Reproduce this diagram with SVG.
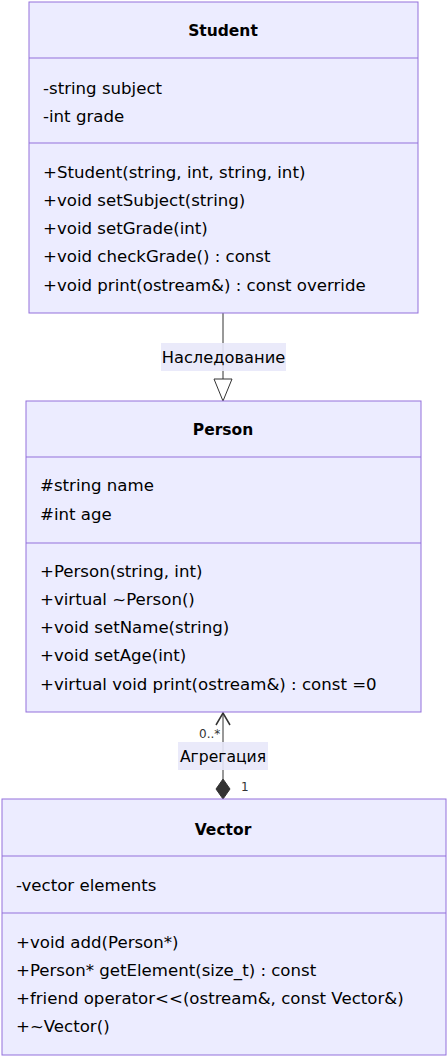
<svg xmlns="http://www.w3.org/2000/svg" width="448" height="1057" viewBox="0 0 448 1057">
<style>
.box{fill:#ECECFF;stroke:#9370DB;stroke-width:1}
.div{stroke:#9370DB;stroke-width:1}
text{font-family:"DejaVu Sans",Verdana,sans-serif;font-size:16.6px;fill:#000}
.t{font-weight:bold;text-anchor:middle;font-size:15.5px}
.lbl{fill:#E8E8FA;opacity:0.9}
.edge{stroke:#333;stroke-width:1;fill:none}
.card{font-size:12px;fill:#333}
</style>
<g id="connectors">
<line class="edge" x1="223" y1="313" x2="223" y2="380"/>
<path d="M223,401 L214,379 L232,379 Z" fill="#fff" stroke="#333" stroke-width="1"/>
<rect class="lbl" x="161" y="343" width="125" height="28"/>
<text x="223.5" y="363" text-anchor="middle" style="font-size:16.3px">Наследование</text>
<line class="edge" x1="223" y1="713" x2="223" y2="779"/>
<path d="M216,725 L223,713 L230,725" fill="none" stroke="#333" stroke-width="1.5"/>
<path d="M223,799 L216,789 L223,779 L230,789 Z" fill="#333" stroke="#333"/>
<rect class="lbl" x="178" y="742" width="90" height="28"/>
<text x="223" y="762" text-anchor="middle" style="font-size:15.6px">Агрегация</text>
<text class="card" x="199" y="738">0..*</text>
<text class="card" x="241" y="791">1</text>
</g>
<g id="Student">
<rect class="box" x="29" y="2" width="389" height="311"/>
<line class="div" x1="29" y1="58" x2="418" y2="58"/>
<line class="div" x1="29" y1="143" x2="418" y2="143"/>
<text class="t" x="223" y="36">Student</text>
<text x="43" y="94">-string subject</text>
<text x="43" y="122">-int grade</text>
<text x="43" y="178">+Student(string, int, string, int)</text>
<text x="43" y="206">+void setSubject(string)</text>
<text x="43" y="234">+void setGrade(int)</text>
<text x="43" y="262">+void checkGrade() : const</text>
<text x="43" y="291">+void print(ostream&amp;) : const override</text>
</g>
<g id="Person">
<rect class="box" x="26" y="401" width="395" height="311"/>
<line class="div" x1="26" y1="457" x2="421" y2="457"/>
<line class="div" x1="26" y1="543" x2="421" y2="543"/>
<text class="t" x="223" y="435">Person</text>
<text x="40" y="491">#string name</text>
<text x="40" y="520">#int age</text>
<text x="40" y="577">+Person(string, int)</text>
<text x="40" y="605">+virtual ~Person()</text>
<text x="40" y="633">+void setName(string)</text>
<text x="40" y="661">+void setAge(int)</text>
<text x="40" y="690">+virtual void print(ostream&amp;) : const =0</text>
</g>
<g id="Vector">
<rect class="box" x="2" y="799" width="444" height="256"/>
<line class="div" x1="2" y1="856" x2="446" y2="856"/>
<line class="div" x1="2" y1="913" x2="446" y2="913"/>
<text class="t" x="223" y="835">Vector</text>
<text x="16" y="891">-vector elements</text>
<text x="16" y="948">+void add(Person*)</text>
<text x="16" y="976">+Person* getElement(size_t) : const</text>
<text x="16" y="1004">+friend operator&lt;&lt;(ostream&amp;, const Vector&amp;)</text>
<text x="16" y="1032">+~Vector()</text>
</g>
</svg>
